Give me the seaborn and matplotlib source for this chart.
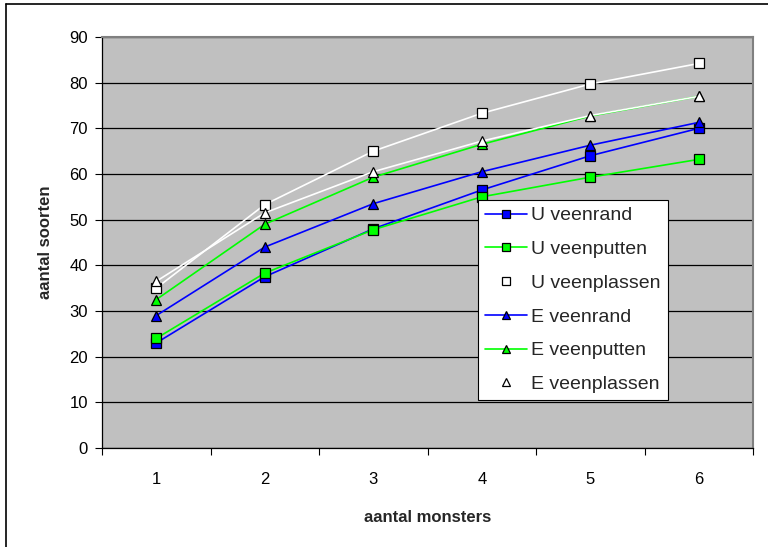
import matplotlib
matplotlib.use("Agg")
import matplotlib.pyplot as plt
import seaborn as sns
import pandas as pd
from matplotlib.lines import Line2D

monsters = [1, 2, 3, 4, 5, 6]
u_veenrand = [23, 37.5, 48, 56.5, 64, 70]
u_veenputten = [24, 38.3, 47.8, 55, 59.3, 63.2]
u_veenplassen = [35, 53.3, 65, 73.3, 79.7, 84.2]
e_veenrand = [29, 44, 53.5, 60.5, 66.3, 71.3]
e_veenputten = [32.5, 49, 59.3, 66.5, 72.7, 77]
e_veenplassen = [36.5, 51.5, 60.5, 67.2, 72.8, 77]

series = [
    ("U veenrand", u_veenrand, "#0000FF", "s", "#0000FF"),
    ("U veenputten", u_veenputten, "#00FF00", "s", "#00FF00"),
    ("U veenplassen", u_veenplassen, "#FFFFFF", "s", "#FFFFFF"),
    ("E veenrand", e_veenrand, "#0000FF", "^", "#0000FF"),
    ("E veenputten", e_veenputten, "#00FF00", "^", "#00FF00"),
    ("E veenplassen", e_veenplassen, "#FFFFFF", "^", "#FFFFFF"),
]

sns.set_theme(style="white")
plt.rcParams['font.family'] = ['Liberation Sans', 'DejaVu Sans']

W, H = 768, 547
L, R, T, B = 102, 753, 37, 448
fig = plt.figure(figsize=(W/100, H/100), dpi=100)
ax = fig.add_axes([L/W, (H-B)/H, (R-L)/W, (B-T)/H])
ax.set_facecolor("#C0C0C0")

for name, vals, color, marker, fc in series:
    df = pd.DataFrame({"x": monsters, "y": vals})
    sns.lineplot(data=df, x="x", y="y", ax=ax, color=color, lw=1.2,
                 marker=marker, markersize=7, markerfacecolor=fc,
                 markeredgecolor="black", markeredgewidth=0.9, label=name)

ax.set_xlim(0.5, 6.5)
ax.set_ylim(0, 90)
ax.set_yticks(range(0, 91, 10))
ax.set_xticks(monsters)
ax.set_xticklabels([str(m) for m in monsters])
ax.set_xticks([m - 0.5 for m in monsters] + [6.5], minor=True)
ax.tick_params(axis="x", which="major", length=0, labelsize=12, pad=17, colors="black")
ax.tick_params(axis="x", which="minor", length=5, width=0.8, color="black", bottom=True)
ax.tick_params(axis="y", which="major", length=5, width=0.8, left=True, labelsize=12,
               colors="black", pad=5)
ax.yaxis.grid(True, color="black", lw=0.9)
ax.set_axisbelow(True)
for s in ["top", "right"]:
    ax.spines[s].set_color("#808080")
    ax.spines[s].set_linewidth(1.5)
for s in ["left", "bottom"]:
    ax.spines[s].set_color("black")
    ax.spines[s].set_linewidth(0.9)

ax.set_xlabel("aantal monsters", fontsize=12, fontweight="bold", labelpad=17)
ax.set_ylabel("aantal soorten", fontsize=12, fontweight="bold", labelpad=12)

leg = ax.legend(loc="upper left", bbox_to_anchor=((478-L)/(R-L), (B-200)/(B-T)),
                frameon=True, fancybox=False, fontsize=14, handlelength=2.15,
                markerscale=0.8, labelspacing=0.83, borderpad=0.35,
                handletextpad=0.25, borderaxespad=0)
leg.get_frame().set_edgecolor("black")
leg.get_frame().set_linewidth(0.8)
leg.get_frame().set_facecolor("white")
leg.get_frame().set_alpha(1)

fig.add_artist(Line2D([5.5/W, 5.5/W], [0, 1 - 3.5/H], transform=fig.transFigure,
                      color="black", lw=1.2))
fig.add_artist(Line2D([5.5/W, 1], [1 - 3.5/H, 1 - 3.5/H], transform=fig.transFigure,
                      color="black", lw=1.2))

fig.savefig("out.png", dpi=100, facecolor="white")
